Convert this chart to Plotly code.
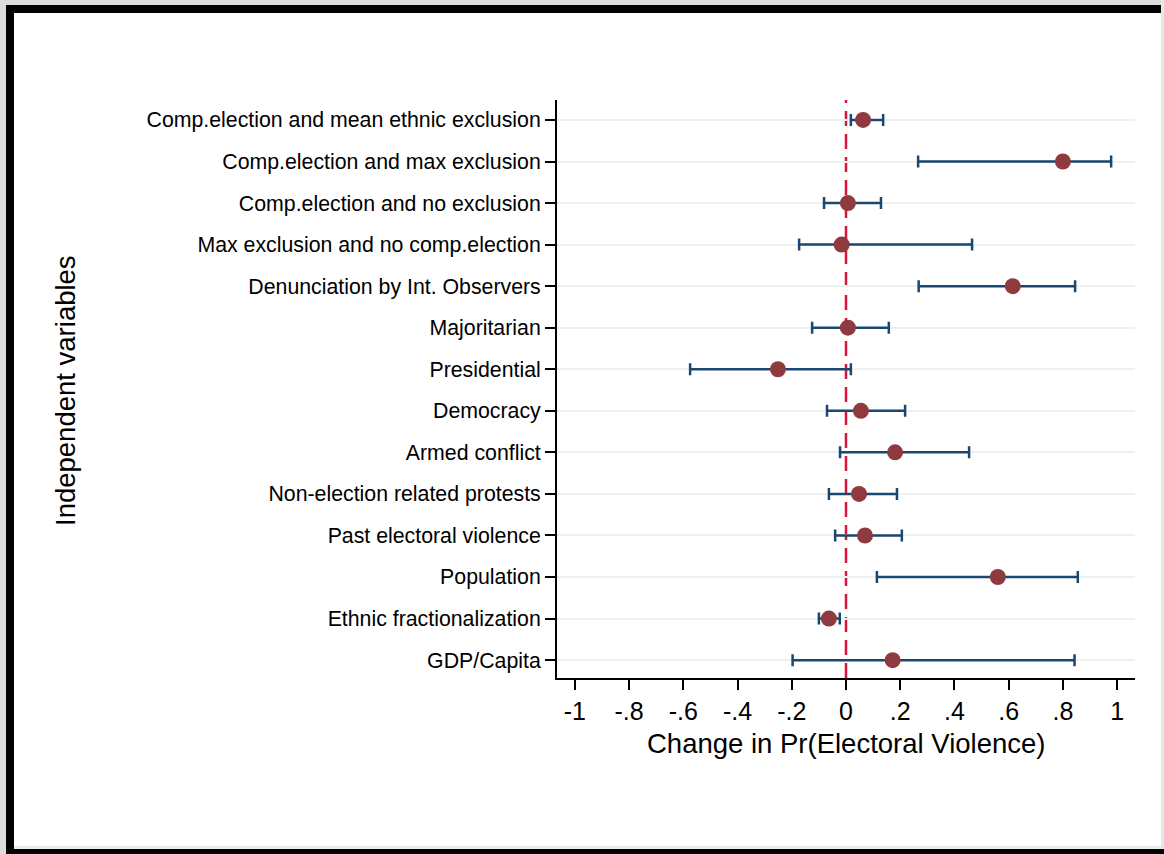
import plotly.graph_objects as go

# ---- data ----
variables = [
    "Comp.election and mean ethnic exclusion",
    "Comp.election and max exclusion",
    "Comp.election and no exclusion",
    "Max exclusion and no comp.election",
    "Denunciation by Int. Observers",
    "Majoritarian",
    "Presidential",
    "Democracy",
    "Armed conflict",
    "Non-election related protests",
    "Past electoral violence",
    "Population",
    "Ethnic fractionalization",
    "GDP/Capita",
]
effect = [0.063, 0.800, 0.007, -0.016, 0.615, 0.007, -0.251, 0.055, 0.181, 0.048, 0.070, 0.560, -0.063, 0.172]
ci_low = [0.018, 0.266, -0.081, -0.173, 0.268, -0.125, -0.575, -0.070, -0.022, -0.063, -0.040, 0.114, -0.100, -0.197]
ci_high = [0.137, 0.978, 0.129, 0.465, 0.845, 0.158, 0.018, 0.218, 0.454, 0.188, 0.206, 0.855, -0.023, 0.843]
xtick_vals = [-1, -0.8, -0.6, -0.4, -0.2, 0, 0.2, 0.4, 0.6, 0.8, 1]
xtick_text = ["-1", "-.8", "-.6", "-.4", "-.2", "0", ".2", ".4", ".6", ".8", "1"]

# ---- layout geometry (pixels) ----
W, H = 1164, 854
L, R, T, B = 557, 1135, 100, 678
PW, PH = R - L, B - T


def px(x):
    return (x - L) / PW


def py(y):
    return (B - y) / PH


ypos = list(range(1, len(variables) + 1))
err_plus = [h - e for h, e in zip(ci_high, effect)]
err_minus = [e - l for e, l in zip(effect, ci_low)]

NAVY = "#1a476f"
MAROON = "#8f3a3f"
FONT = "Liberation Sans, Arial, Helvetica, sans-serif"

fig = go.Figure()
fig.add_trace(go.Scatter(
    x=effect, y=ypos, mode="markers",
    marker=dict(size=16, color=MAROON, line=dict(width=0)),
    error_x=dict(type="data", symmetric=False, array=err_plus, arrayminus=err_minus,
                 color=NAVY, thickness=2.5, width=6),
    showlegend=False, hoverinfo="skip",
))

shapes = []
# reference line at zero
shapes.append(dict(type="line", xref="x", yref="paper", x0=0, x1=0, y0=0, y1=1,
                   line=dict(color="#dc143c", width=2.5, dash="15px,8px"), layer="between"))


def rect(x0, y0, x1, y1, color):
    shapes.append(dict(type="rect", xref="paper", yref="paper",
                       x0=px(x0), x1=px(x1), y0=py(y1), y1=py(y0),
                       fillcolor=color, line=dict(width=0), layer="above"))


# outer frame (screenshot border)
rect(0, 0, W, 5, "#dcdcdc")
rect(0, 0, 6, H, "#dcdcdc")
rect(1161, 0, W, H, "#e4e8ea")
rect(6, 5, 1161, 13, "#000000")
rect(6, 5, 14, 849, "#000000")
rect(6, 849, W, H, "#000000")
rect(14, 846, 1161, 849, "#e8ecee")

annotations = [
    dict(text="Change in Pr(Electoral Violence)", xref="paper", yref="paper",
         x=0.5, y=py(743), xanchor="center", yanchor="middle", showarrow=False,
         font=dict(family=FONT, size=27.5, color="black")),
    dict(text="Independent variables", xref="paper", yref="paper",
         x=px(65), y=py(390), xanchor="center", yanchor="middle", showarrow=False,
         textangle=-90, font=dict(family=FONT, size=27.5, color="black")),
]

fig.update_layout(
    width=W, height=H,
    margin=dict(l=L, r=W - R, t=T, b=H - B, pad=0),
    paper_bgcolor="white", plot_bgcolor="white",
    font=dict(family=FONT, color="black"),
    shapes=shapes, annotations=annotations,
    xaxis=dict(range=[-1.066, 1.066], tickvals=xtick_vals, ticktext=xtick_text,
               showgrid=False, zeroline=False, showline=True, linecolor="black", linewidth=2,
               ticks="outside", ticklen=10, tickwidth=2, tickcolor="black",
               tickfont=dict(family=FONT, size=25, color="black")),
    yaxis=dict(range=[14.43, 0.52], tickvals=ypos, ticktext=variables,
               showgrid=True, gridcolor="#eaf2f3", gridwidth=2, zeroline=False,
               showline=True, linecolor="black", linewidth=2,
               ticks="outside", ticklen=10, tickwidth=2, tickcolor="black",
               tickfont=dict(family=FONT, size=21.3, color="black")),
)

fig.write_html("out.html")
